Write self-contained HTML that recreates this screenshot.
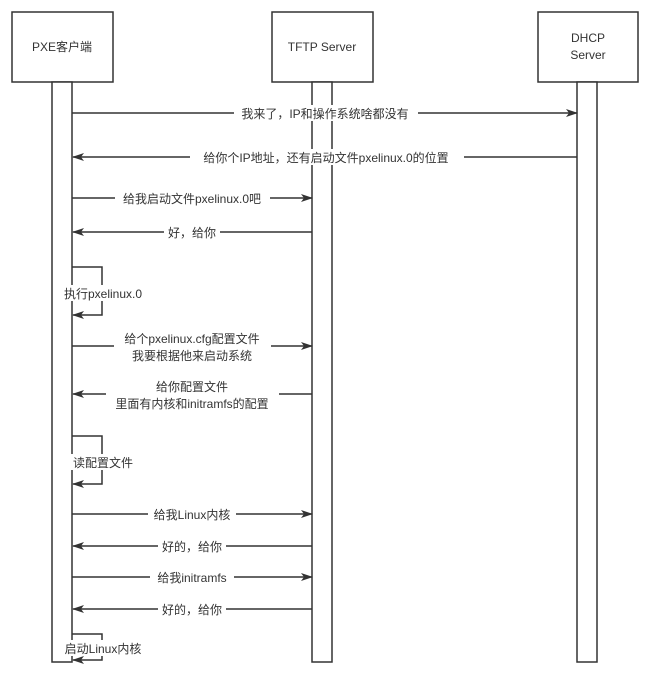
<!DOCTYPE html>
<html><head><meta charset="utf-8"><style>
html,body{margin:0;padding:0;background:#fff;}
svg text{font-family:"Liberation Sans","Noto Sans CJK SC",sans-serif;font-size:12px;fill:#333;}
</style></head><body>
<svg width="649" height="681" viewBox="0 0 649 681" xmlns="http://www.w3.org/2000/svg">
<defs>
<marker id="a" markerWidth="12" markerHeight="8" refX="11" refY="4" orient="auto" markerUnits="userSpaceOnUse">
<path d="M0,0 L12,4 L0,8 L3,4 Z" fill="#333"/></marker>
</defs>
<g fill="#fff" stroke="#333" stroke-width="1.5">
<rect x="12" y="12" width="101" height="70"/>
<rect x="272" y="12" width="101" height="70"/>
<rect x="538" y="12" width="100" height="70"/>
<rect x="52" y="82" width="20" height="580"/>
<rect x="312" y="82" width="20" height="580"/>
<rect x="577" y="82" width="20" height="580"/>
</g>
<text x="62" y="51" text-anchor="middle">PXE客户端</text>
<text x="322" y="51" text-anchor="middle">TFTP Server</text>
<text x="588" y="42" text-anchor="middle">DHCP</text>
<text x="588" y="59" text-anchor="middle">Server</text>
<g stroke="#333" stroke-width="1.5" fill="none" marker-end="url(#a)">
<line x1="72" y1="113" x2="577" y2="113"/>
<line x1="577" y1="157" x2="73" y2="157"/>
<line x1="72" y1="198" x2="312" y2="198"/>
<line x1="312" y1="232" x2="73" y2="232"/>
<polyline points="72,267 102,267 102,315 73,315"/>
<line x1="72" y1="346" x2="312" y2="346"/>
<line x1="312" y1="394" x2="73" y2="394"/>
<polyline points="72,436 102,436 102,484 73,484"/>
<line x1="72" y1="514" x2="312" y2="514"/>
<line x1="312" y1="546" x2="73" y2="546"/>
<line x1="72" y1="577" x2="312" y2="577"/>
<line x1="312" y1="609" x2="73" y2="609"/>
<polyline points="72,634 102,634 102,660 73,660"/>
</g>
<g>
<rect x="234" y="105" width="184" height="16" fill="#fff"/>
<text x="325" y="118" text-anchor="middle">我来了，IP和操作系统啥都没有</text>
<rect x="190" y="149" width="274" height="16" fill="#fff"/>
<text x="326" y="162" text-anchor="middle">给你个IP地址，还有启动文件pxelinux.0的位置</text>
<rect x="115" y="190" width="155" height="16" fill="#fff"/>
<text x="192" y="203" text-anchor="middle">给我启动文件pxelinux.0吧</text>
<rect x="164" y="224" width="56" height="16" fill="#fff"/>
<text x="192" y="237" text-anchor="middle">好，给你</text>
<rect x="56" y="285" width="94" height="16" fill="#fff"/>
<text x="103" y="298" text-anchor="middle">执行pxelinux.0</text>
<rect x="114" y="331" width="157" height="31" fill="#fff"/>
<text x="192" y="343" text-anchor="middle">给个pxelinux.cfg配置文件</text>
<text x="192" y="360" text-anchor="middle">我要根据他来启动系统</text>
<rect x="106" y="379" width="173" height="32" fill="#fff"/>
<text x="192" y="391" text-anchor="middle">给你配置文件</text>
<text x="192" y="408" text-anchor="middle">里面有内核和initramfs的配置</text>
<rect x="70" y="454" width="66" height="16" fill="#fff"/>
<text x="103" y="467" text-anchor="middle">读配置文件</text>
<rect x="148" y="506" width="88" height="16" fill="#fff"/>
<text x="192" y="519" text-anchor="middle">给我Linux内核</text>
<rect x="158" y="538" width="68" height="16" fill="#fff"/>
<text x="192" y="551" text-anchor="middle">好的，给你</text>
<rect x="150" y="569" width="84" height="16" fill="#fff"/>
<text x="192" y="582" text-anchor="middle">给我initramfs</text>
<rect x="158" y="601" width="68" height="16" fill="#fff"/>
<text x="192" y="614" text-anchor="middle">好的，给你</text>
<rect x="60" y="640" width="86" height="16" fill="#fff"/>
<text x="103" y="653" text-anchor="middle">启动Linux内核</text>
</g>
</svg>
</body></html>
